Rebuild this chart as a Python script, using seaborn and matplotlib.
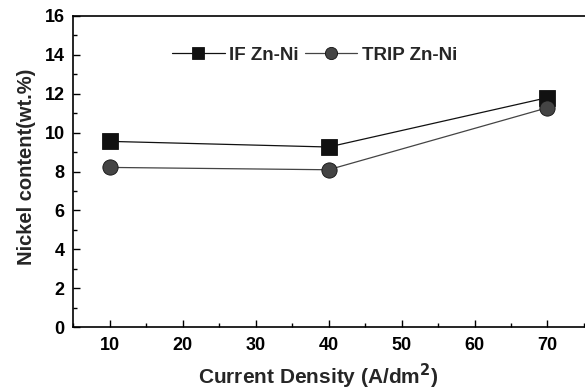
import matplotlib
matplotlib.use("Agg")
import matplotlib.pyplot as plt
import seaborn as sns
import pandas as pd
from matplotlib.ticker import MultipleLocator

current_density = [10, 40, 70]
if_znni = [9.55, 9.26, 11.8]
trip_znni = [8.21, 8.09, 11.28]
series_names = ["IF Zn-Ni", "TRIP Zn-Ni"]

df = pd.DataFrame({
    "x": current_density * 2,
    "y": if_znni + trip_znni,
    "s": [series_names[0]] * 3 + [series_names[1]] * 3,
})

sns.set_theme(style="ticks")
plt.rcParams["font.family"] = ["Liberation Sans", "DejaVu Sans"]
plt.rcParams["font.weight"] = "bold"
plt.rcParams["axes.labelweight"] = "bold"

fig = plt.figure(figsize=(5.85, 3.9), dpi=100)
ax = fig.add_axes([0.125, 0.1615, 0.877, 0.7975])

sns.lineplot(data=df, x="x", y="y", hue="s", style="s",
             palette={series_names[0]: "#111111", series_names[1]: "#444444"},
             markers={series_names[0]: "s", series_names[1]: "o"},
             dashes=False, linewidth=0.9, markersize=11, markeredgewidth=0.6,
             markeredgecolor="#111111", ax=ax, legend=True)

ax.set_xlim(5, 75.3)
ax.set_ylim(0, 16)
ax.xaxis.set_major_locator(MultipleLocator(10))
ax.xaxis.set_minor_locator(MultipleLocator(5))
ax.yaxis.set_major_locator(MultipleLocator(2))
ax.yaxis.set_minor_locator(MultipleLocator(1))
ax.tick_params(which="both", direction="in", top=False, right=False, width=1.0, colors="black")
ax.tick_params(which="major", length=5, labelsize=13)
ax.tick_params(which="minor", length=3)
ax.tick_params(axis="x", which="major", pad=7)
ax.tick_params(axis="y", which="major", pad=6)
fig.canvas.draw()
for lab in ax.get_xticklabels() + ax.get_yticklabels():
    lab.set_fontweight("bold")
for sp in ax.spines.values():
    sp.set_color("black")
    sp.set_linewidth(1.2)
ax.spines["right"].set_visible(False)

ax.set_xlabel("Current Density (A/dm$^\\mathbf{2}$)", fontsize=15, fontweight="bold")
ax.set_ylabel("Nickel content(wt.%)", fontsize=14.5, fontweight="bold")
ax.xaxis.set_label_coords(0.477, -0.112)
ax.yaxis.set_label_coords(-0.073, 0.515)

leg = ax.legend(loc="upper left", bbox_to_anchor=(0.16, 0.955), ncol=2, frameon=False,
                handlelength=2.8, columnspacing=0.3, handletextpad=0.25, markerscale=0.8,
                prop={"weight": "bold", "size": 13.5})

fig.savefig("out.png", dpi=100)
